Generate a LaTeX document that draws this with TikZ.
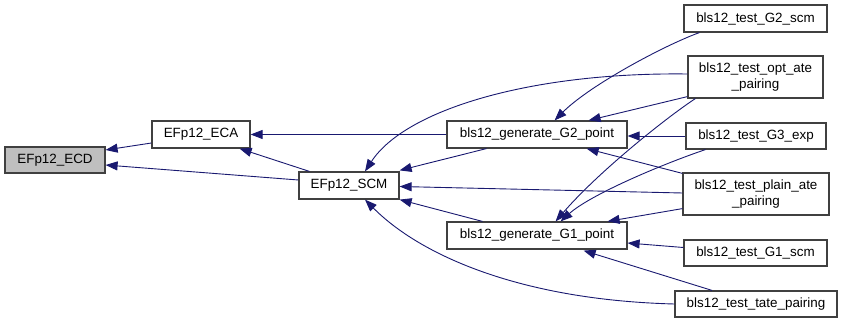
\documentclass[tikz,border=0pt]{standalone}
\usepackage{fontspec}
\setmainfont{Liberation Sans}
\usetikzlibrary{arrows.meta,calc}
\definecolor{edgeblue}{HTML}{191970}
\definecolor{boxline}{HTML}{404040}
\definecolor{boxfill}{HTML}{BFBFBF}
\begin{document}
\begin{tikzpicture}[x=1pt,y=-1pt,
  fn/.style={draw=boxline, line width=1.2pt, fill=white, inner sep=0pt,
    minimum height=27pt, font=\fontsize{13.4}{16}\selectfont, align=center},
  fntwo/.style={fn, minimum height=42pt},
  call/.style={draw=edgeblue, line width=0.9pt,
    -{Triangle[length=12pt,width=9pt,fill=edgeblue]}}]
\useasboundingbox (0,0) rectangle (843,323);

% functions
\node[fn, fill=boxfill, minimum width=100pt, minimum height=26pt] (ecd) at (55,160) {EFp12\_ECD};
\node[fn, minimum width=98pt] (eca) at (201,134.5) {EFp12\_ECA};
\node[fn, minimum width=100pt] (scm) at (349,185.5) {EFp12\_SCM};
\node[fn, minimum width=180pt] (g2p) at (537,134.5) {bls12\_generate\_G2\_point};
\node[fn, minimum width=180pt] (g1p) at (537,235.5) {bls12\_generate\_G1\_point};
\node[fn, minimum width=143pt] (g2scm) at (755.5,18.5) {bls12\_test\_G2\_scm};
\node[fntwo, minimum width=135pt] (opt) at (755.5,77) {bls12\_test\_opt\_ate\\\_pairing};
\node[fn, minimum width=140pt, minimum height=26pt] (g3) at (756,136) {bls12\_test\_G3\_exp};
\node[fntwo, minimum width=146pt] (plain) at (756,194) {bls12\_test\_plain\_ate\\\_pairing};
\node[fn, minimum width=143pt, minimum height=26pt] (g1scm) at (755.5,253) {bls12\_test\_G1\_scm};
\node[fn, minimum width=162pt, minimum height=26pt] (tate) at (756,304) {bls12\_test\_tate\_pairing};

% calls into EFp12_ECD
\draw[call] ($(eca.west)+(0,8.5)$) -- ($(ecd.east)+(0,-10)$);
\draw[call] ($(scm.west)+(0,-5.5)$) -- ($(ecd.east)+(0,5)$);

% calls into EFp12_ECA
\draw[call] (g2p.west) -- (eca.east);
\draw[call] ($(scm.north west)+(11,0)$) -- ($(eca.south east)+(-11,0)$);

% calls into EFp12_SCM
\draw[call] ($(g2p.south west)+(40,0)$) -- ($(scm.north east)+(0,-1)$);
\draw[call] (opt.west) ++(0,-3) .. controls (530,72) and (405,110) .. ($(scm.north)+(16,0)$);
\draw[call] ($(plain.west)+(0,-1)$) -- ($(scm.east)+(0,1)$);
\draw[call] ($(g1p.north west)+(36,0)$) -- (scm.south east);
\draw[call] (tate.west) .. controls (520,300) and (420,255) .. ($(scm.south)+(16,0)$);

% calls into bls12_generate_G2_point
\draw[call] ($(g2scm.south west)+(16,0)$) .. controls (665,45) and (590,85) .. ($(g2p.north east)+(-73,0)$);
\draw[call] ($(opt.south west)+(0,-2)$) -- ($(g2p.north east)+(-39,0)$);
\draw[call] (g3.west) -- (g2p.east |- g3.west);
\draw[call] ($(plain.north west)+(0,1)$) -- ($(g2p.south east)+(-41,0)$);

% calls into bls12_generate_G1_point
\draw[call] ($(opt.south west)+(8,0)$) .. controls (670,115) and (600,170) .. ($(g1p.north east)+(-72,0)$);
\draw[call] ($(g3.south west)+(20,0)$) .. controls (660,165) and (590,195) .. ($(g1p.north east)+(-67,0)$);
\draw[call] ($(plain.south west)+(0,-7)$) -- ($(g1p.north east)+(-20,0)$);
\draw[call] ($(g1scm.west)+(0,-5.5)$) -- ($(g1p.east)+(0,7.5)$);
\draw[call] ($(tate.north)+(-44,0)$) -- ($(g1p.south east)+(-44,1)$);
\end{tikzpicture}
\end{document}
